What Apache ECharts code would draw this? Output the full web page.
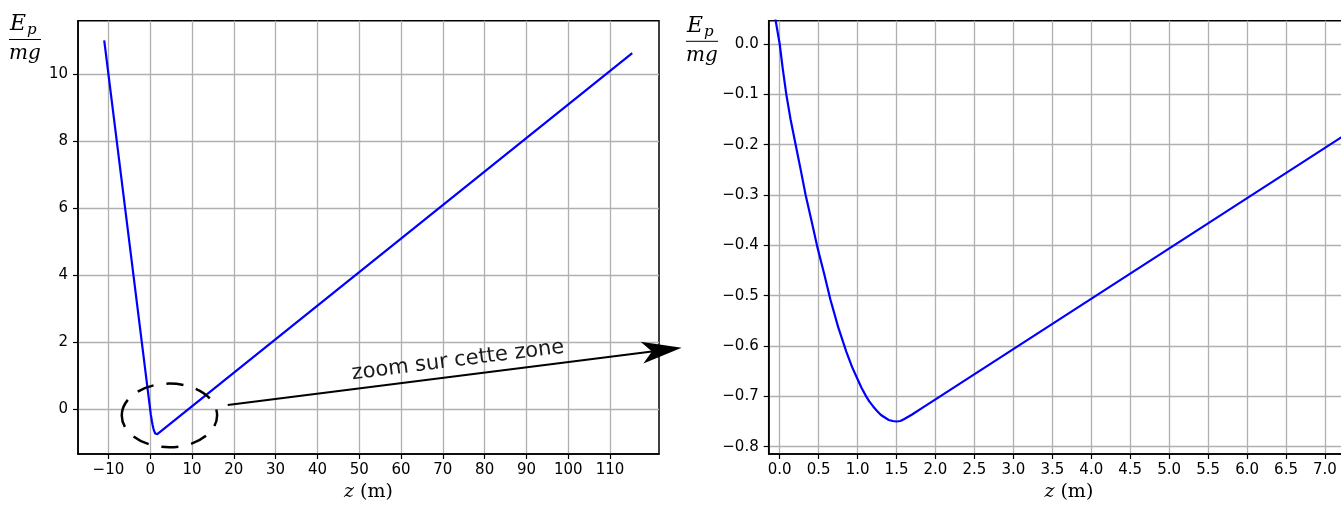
<!DOCTYPE html>
<html><head><meta charset="utf-8">
<script src="https://cdn.jsdelivr.net/npm/echarts@6/dist/echarts.min.js"></script>
<style>html,body{margin:0;padding:0;background:#fff}#c{width:1341px;height:507px}</style>
</head><body><div id="c"></div>
<script>
// Curve points (z in m, Ep/mg)
const zValues  = [-11, -0.05, 0, 0.04, 0.085, 0.14, 0.205, 0.27, 0.333, 0.41, 0.483, 0.57, 0.65, 0.75, 0.855, 0.93, 1.0, 1.05, 1.11, 1.15, 1.2, 1.25, 1.3, 1.35, 1.4, 1.45, 1.5, 1.55, 1.6, 1.7, 1.85, 2.0, 115.3];
const epValues = [11, 0.045, 0, -0.05, -0.1, -0.15, -0.2, -0.25, -0.3, -0.352, -0.403, -0.456, -0.507, -0.562, -0.611, -0.642, -0.666, -0.683, -0.7, -0.71, -0.72, -0.729, -0.737, -0.742, -0.747, -0.749, -0.75, -0.749, -0.745, -0.736, -0.721, -0.706, 10.62];

// Tick labels
const leftXTicks  = [-10, 0, 10, 20, 30, 40, 50, 60, 70, 80, 90, 100, 110];
const leftYTicks  = [0, 2, 4, 6, 8, 10];
const rightXTicks = [0, 0.5, 1, 1.5, 2, 2.5, 3, 3.5, 4, 4.5, 5, 5.5, 6, 6.5, 7, 7.5];
const rightYTicks = [-0.8, -0.7, -0.6, -0.5, -0.4, -0.3, -0.2, -0.1, 0];

// Annotation (dashed ellipse) in left-panel data units
const zoomZoneCenter = [4.6, -0.18];
const zoomZoneRadii = [11.4, 0.95];
const annotationText = 'zoom sur cette zone';

const points = zValues.map((z, i) => [z, epValues[i]]);
const minus = v => (v < 0 ? '\u2212' : '');
const fmtInt = v => minus(v) + Math.abs(Math.round(v));
const fmt1 = v => minus(v) + Math.abs(v).toFixed(1);

const gridLine = { show: true, lineStyle: { color: '#b0b0b0', width: 1.3 } };
const tickFont = { color: '#000', fontFamily: 'DejaVu Sans', fontSize: 15 };
const axisLine = { show: true, onZero: false, lineStyle: { color: '#000', width: 1.5 } };
const tick = (vals) => ({ show: true, inside: false, length: 5, lineStyle: { color: '#000', width: 1.2 }, customValues: vals });
const xName = {
  name: '{it|z} (m)', nameLocation: 'middle', nameGap: 28,
  nameTextStyle: { fontFamily: 'DejaVu Serif', fontSize: 19, color: '#000',
    rich: { it: { fontFamily: 'DejaVu Serif', fontStyle: 'italic', fontSize: 19, color: '#000' } } }
};

const chart = echarts.init(document.getElementById('c'), null, { renderer: 'canvas' });
const option = {
  animation: false,
  backgroundColor: '#fff',
  grid: [
    { left: 78, top: 20.7, right: 682, bottom: 53, show: true, borderColor: '#000', borderWidth: 1.5, backgroundColor: 'transparent', outerBoundsMode: 'none', containLabel: false },
    { left: 768.7, top: 20.7, right: -28, bottom: 53, show: true, borderColor: '#000', borderWidth: 1.5, backgroundColor: 'transparent', outerBoundsMode: 'none', containLabel: false }
  ],
  xAxis: [
    Object.assign({ type: 'value', gridIndex: 0, min: -17.27, max: 121.7,
      axisLine, axisTick: tick(leftXTicks), splitLine: gridLine,
      axisLabel: Object.assign({ customValues: leftXTicks, formatter: fmtInt, margin: 9 }, tickFont) }, xName),
    Object.assign({ type: 'value', gridIndex: 1, min: -0.141, max: 7.565,
      axisLine, axisTick: tick(rightXTicks), splitLine: gridLine,
      axisLabel: Object.assign({ customValues: rightXTicks, formatter: fmt1, margin: 9 }, tickFont) }, xName)
  ],
  yAxis: [
    { type: 'value', gridIndex: 0, min: -1.33, max: 11.59,
      axisLine, axisTick: tick(leftYTicks), splitLine: gridLine,
      axisLabel: Object.assign({ customValues: leftYTicks, formatter: fmtInt, margin: 10 }, tickFont) },
    { type: 'value', gridIndex: 1, min: -0.8145, max: 0.0463,
      axisLine, axisTick: tick(rightYTicks), splitLine: gridLine,
      axisLabel: Object.assign({ customValues: rightYTicks, formatter: fmt1, margin: 10 }, tickFont) }
  ],
  series: [
    { type: 'line', xAxisIndex: 0, yAxisIndex: 0, data: points, showSymbol: false, clip: true,
      lineStyle: { color: '#0000ff', width: 2.2 }, z: 5 },
    { type: 'line', xAxisIndex: 1, yAxisIndex: 1, data: points, showSymbol: false, clip: true,
      lineStyle: { color: '#0000ff', width: 2.2, join: 'round' }, z: 5 }
  ]
};
chart.setOption(option);

function fraction(x0, lineY) {
  return [
    { type: 'text', style: { text: 'E', x: x0 + 1, y: lineY - 15, font: 'italic 22px "DejaVu Serif"', fill: '#000', align: 'left', verticalAlign: 'middle' } },
    { type: 'text', style: { text: 'p', x: x0 + 18, y: lineY - 9, font: 'italic 15px "DejaVu Serif"', fill: '#000', align: 'left', verticalAlign: 'middle' } },
    { type: 'line', shape: { x1: x0, y1: lineY, x2: x0 + 32, y2: lineY }, style: { stroke: '#000', lineWidth: 1 } },
    { type: 'text', style: { text: 'mg', x: x0 + 16, y: lineY + 14, font: 'italic 20px "DejaVu Serif"', fill: '#000', align: 'center', verticalAlign: 'middle' } }
  ];
}

const c = chart.convertToPixel({ gridIndex: 0 }, zoomZoneCenter);
const e = chart.convertToPixel({ gridIndex: 0 }, [zoomZoneCenter[0] + zoomZoneRadii[0], zoomZoneCenter[1] + zoomZoneRadii[1]]);
const rx = Math.abs(e[0] - c[0]), ry = Math.abs(c[1] - e[1]);

// arrow geometry (pixels)
const a0 = [227.7, 405], tip = [681.7, 347.7];
const dx = tip[0] - a0[0], dy = tip[1] - a0[1], L = Math.hypot(dx, dy);
const u = [dx / L, dy / L], n = [-u[1], u[0]];
const headLen = 40, halfW = 11;
const back = [tip[0] - headLen * u[0], tip[1] - headLen * u[1]];
const notch = [back[0] + 10 * u[0], back[1] + 10 * u[1]];
const angle = Math.atan2(-dy, dx);

chart.setOption({
  graphic: [
    ...fraction(9, 39.5),
    ...fraction(686, 41.3),
    { type: 'ellipse', shape: { cx: c[0], cy: c[1], rx: rx, ry: ry }, z: 100,
      style: { fill: 'none', stroke: '#000', lineWidth: 2.5, lineDash: [17, 13] } },
    { type: 'line', shape: { x1: a0[0], y1: a0[1], x2: notch[0], y2: notch[1] }, z: 100,
      style: { stroke: '#000', lineWidth: 2 } },
    { type: 'polygon', z: 100, shape: { points: [tip, [back[0] + halfW * n[0], back[1] + halfW * n[1]], notch, [back[0] - halfW * n[0], back[1] - halfW * n[1]]] },
      style: { fill: '#000' } },
    { type: 'text', x: 458, y: 360.5, rotation: angle, z: 100,
      style: { text: annotationText, font: '21px "DejaVu Sans"', fill: '#1a1a1a', align: 'center', verticalAlign: 'middle' } }
  ]
});
</script></body></html>
